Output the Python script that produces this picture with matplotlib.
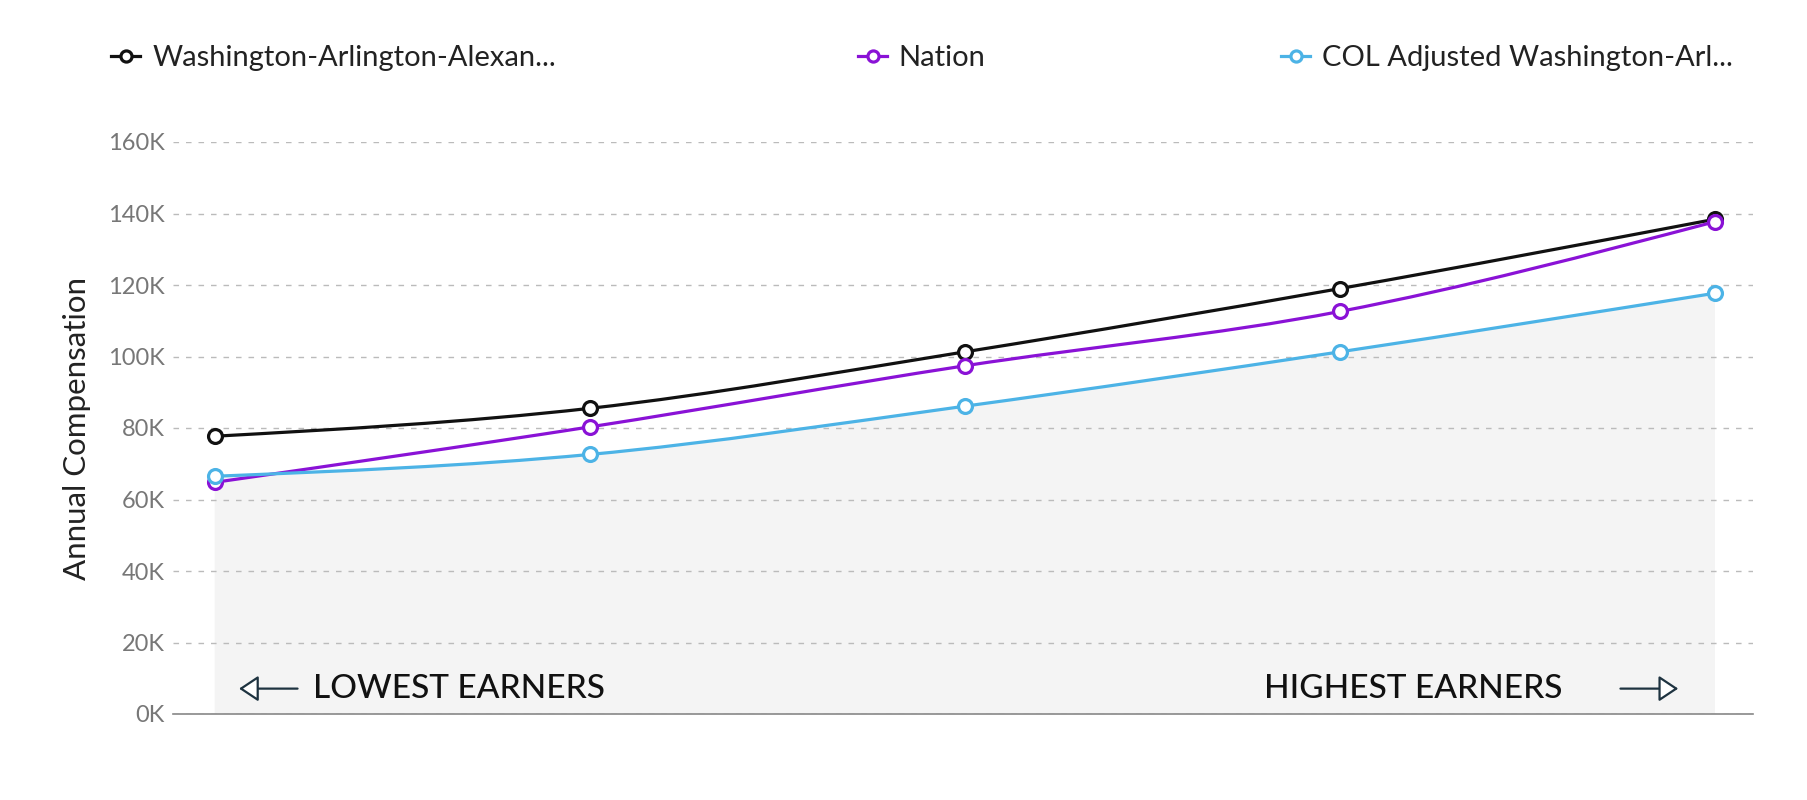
import matplotlib
matplotlib.use("Agg")
import numpy as np
import matplotlib.pyplot as plt
from matplotlib.path import Path
from matplotlib.patches import PathPatch
from matplotlib.lines import Line2D
from matplotlib.ticker import FuncFormatter

plt.rcParams['font.family'] = ['Lato', 'DejaVu Sans']

# percentile buckets, lowest to highest earners
positions = [0, 1, 2, 3, 4]
metro = [77700, 85500, 101300, 119000, 138400]
nation = [64800, 80300, 97400, 112600, 137700]
col_adjusted = [66500, 72600, 86100, 101300, 117700]

names = ['Washington-Arlington-Alexan...', 'Nation', 'COL Adjusted Washington-Arl...']
colors = ['#111111', '#8a12d6', '#4cb3e6']
yticks = [0, 20000, 40000, 60000, 80000, 100000, 120000, 140000, 160000]


def monotone_path(x, y):
    # monotone cubic through the points, as bezier segments
    x = np.asarray(x, float)
    y = np.asarray(y, float)
    h = np.diff(x)
    s = np.diff(y) / h
    m = np.zeros_like(y)
    for i in range(1, len(x) - 1):
        p = (s[i - 1] * h[i] + s[i] * h[i - 1]) / (h[i - 1] + h[i])
        m[i] = (np.sign(s[i - 1]) + np.sign(s[i])) * min(abs(s[i - 1]), abs(s[i]), 0.5 * abs(p))
    m[0] = (3 * s[0] - m[1]) / 2
    m[-1] = (3 * s[-1] - m[-2]) / 2
    verts = [(x[0], y[0])]
    codes = [Path.MOVETO]
    for i in range(len(x) - 1):
        d = h[i] / 3
        verts += [(x[i] + d, y[i] + m[i] * d), (x[i + 1] - d, y[i + 1] - m[i + 1] * d), (x[i + 1], y[i + 1])]
        codes += [Path.CURVE4] * 3
    return verts, codes


fig = plt.figure(figsize=(18.08, 8), dpi=100)
ax = fig.add_axes([0.0957, 0.1075, 0.8738, 0.715])

# shaded area under the cost-of-living adjusted series
v, c = monotone_path(positions, col_adjusted)
v = v + [(positions[-1], 0), (positions[0], 0), v[0]]
c = c + [Path.LINETO, Path.LINETO, Path.CLOSEPOLY]
ax.add_patch(PathPatch(Path(v, c), fc='#f4f4f4', ec='none', zorder=0))

handles = []
for vals, col in zip([metro, nation, col_adjusted], colors):
    v, c = monotone_path(positions, vals)
    ax.add_patch(PathPatch(Path(v, c), fc='none', ec=col, lw=2.3, zorder=3))
    ax.plot(positions, vals, ls='none', marker='o', ms=10,
            mfc='white', mec=col, mew=2.3, zorder=4)
    handles.append(Line2D([], [], color=col, lw=2.3, marker='o', ms=8,
                          mfc='white', mec=col, mew=2.3))

ax.set_xlim(-0.111, 4.101)
ax.set_ylim(0, 160000)
ax.set_yticks(yticks)
ax.yaxis.set_major_formatter(FuncFormatter(lambda v, p: f'{int(v / 1000)}K'))
ax.set_xticks([])
ax.grid(axis='y', ls=(0, (4, 5)), color='#bbbbbb', lw=1)
for s in ['top', 'right', 'left']:
    ax.spines[s].set_visible(False)
ax.spines['bottom'].set_color('#888888')
ax.spines['bottom'].set_linewidth(1.2)
ax.tick_params(axis='y', length=0, pad=6, labelsize=17, labelcolor='#777777')
ax.set_ylabel('Annual Compensation', fontsize=22.5, color='#222222', labelpad=12)

# direction hints along the bottom
arrow = dict(arrowstyle='-|>,head_length=0.6,head_width=0.4', mutation_scale=20,
             fc='white', ec='#1e3340', lw=1.6, shrinkA=0, shrinkB=0)
ax.annotate('', xy=(0.065, 7100), xytext=(0.221, 7100), arrowprops=arrow)
ax.text(0.262, 7100, 'LOWEST EARNERS', fontsize=24, fontweight='medium',
        color='#111111', va='center', ha='left')
ax.annotate('', xy=(3.902, 7100), xytext=(3.748, 7100), arrowprops=arrow)
ax.text(3.594, 7100, 'HIGHEST EARNERS', fontsize=24, fontweight='medium',
        color='#111111', va='center', ha='right')

legend_x = [0.047, 0.460, 0.694]
for h, name, lx in zip(handles, names, legend_x):
    fig.legend([h], [name], loc='center left', bbox_to_anchor=(lx, 0.927),
               frameon=False, fontsize=21, handlelength=1.0, handletextpad=0.4,
               labelcolor='#222222')

fig.savefig('out.png', dpi=100, facecolor='white')
